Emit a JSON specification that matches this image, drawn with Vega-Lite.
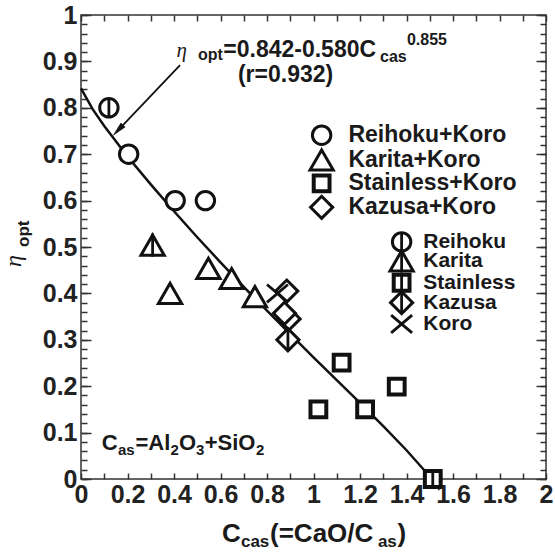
{
  "$schema": "https://vega.github.io/schema/vega-lite/v6.json",
  "width": 465,
  "height": 464,
  "autosize": {"type": "none"},
  "padding": {"left": 81, "top": 15, "right": 9, "bottom": 73},
  "background": "white",
  "config": {
    "view": {"stroke": "#333", "strokeWidth": 1.5},
    "axis": {"grid": false, "domain": false, "labelFont": "Liberation Sans", "labelFontWeight": "bold", "labelFontSize": 25, "labelColor": "#222", "tickColor": "#333", "tickWidth": 1.5, "labelFlush": false, "labelOverlap": false}
  },
  "datasets": {
    "fit": [
      {"c": 0.0, "eta": 0.842}, {"c": 0.05, "eta": 0.797}, {"c": 0.1, "eta": 0.761},
      {"c": 0.2, "eta": 0.695}, {"c": 0.3, "eta": 0.635}, {"c": 0.4, "eta": 0.577},
      {"c": 0.5, "eta": 0.521}, {"c": 0.6, "eta": 0.467}, {"c": 0.7, "eta": 0.414},
      {"c": 0.8, "eta": 0.363}, {"c": 0.9, "eta": 0.312}, {"c": 1.0, "eta": 0.262},
      {"c": 1.1, "eta": 0.213}, {"c": 1.2, "eta": 0.164}, {"c": 1.3, "eta": 0.114},
      {"c": 1.4, "eta": 0.062}, {"c": 1.51, "eta": 0.0}
    ],
    "arrow": [{"c": 0.426, "eta": 0.892}, {"c": 0.16, "eta": 0.752}],
    "head": [{"c": 0.16, "eta": 0.752}],
    "pts": [
      {"c": 0.205, "eta": 0.70, "material": "Reihoku+Koro"},
      {"c": 0.405, "eta": 0.60, "material": "Reihoku+Koro"},
      {"c": 0.535, "eta": 0.60, "material": "Reihoku+Koro"},
      {"c": 0.12, "eta": 0.80, "material": "Reihoku"},
      {"c": 0.383, "eta": 0.40, "material": "Karita+Koro"},
      {"c": 0.548, "eta": 0.454, "material": "Karita+Koro"},
      {"c": 0.648, "eta": 0.432, "material": "Karita+Koro"},
      {"c": 0.748, "eta": 0.393, "material": "Karita+Koro"},
      {"c": 0.308, "eta": 0.504, "material": "Karita"},
      {"c": 1.021, "eta": 0.15, "material": "Stainless+Koro"},
      {"c": 1.121, "eta": 0.251, "material": "Stainless+Koro"},
      {"c": 1.222, "eta": 0.15, "material": "Stainless+Koro"},
      {"c": 1.358, "eta": 0.199, "material": "Stainless+Koro"},
      {"c": 1.513, "eta": 0.0, "material": "Stainless"},
      {"c": 0.895, "eta": 0.345, "material": "Kazusa+Koro"},
      {"c": 0.875, "eta": 0.357, "material": "Kazusa+Koro"},
      {"c": 0.885, "eta": 0.405, "material": "Kazusa+Koro"},
      {"c": 0.89, "eta": 0.30, "material": "Kazusa"},
      {"c": 0.845, "eta": 0.40, "material": "Koro"},
      {"c": 1.035, "eta": 0.741, "material": "Reihoku+Koro"},
      {"c": 1.035, "eta": 0.6875, "material": "Karita+Koro"},
      {"c": 1.035, "eta": 0.637, "material": "Stainless+Koro"},
      {"c": 1.035, "eta": 0.5855, "material": "Kazusa+Koro"},
      {"c": 1.379, "eta": 0.511, "material": "Reihoku"},
      {"c": 1.379, "eta": 0.47, "material": "Karita"},
      {"c": 1.379, "eta": 0.423, "material": "Stainless"},
      {"c": 1.379, "eta": 0.38, "material": "Kazusa"},
      {"c": 1.379, "eta": 0.334, "material": "Koro"}
    ],
    "labels": [
      {"c": 1.15, "eta": 0.741, "text": "Reihoku+Koro", "kind": "leg1"},
      {"c": 1.15, "eta": 0.6875, "text": "Karita+Koro", "kind": "leg1"},
      {"c": 1.15, "eta": 0.637, "text": "Stainless+Koro", "kind": "leg1"},
      {"c": 1.15, "eta": 0.5855, "text": "Kazusa+Koro", "kind": "leg1"},
      {"c": 1.472, "eta": 0.511, "text": "Reihoku", "kind": "leg2"},
      {"c": 1.472, "eta": 0.47, "text": "Karita", "kind": "leg2"},
      {"c": 1.472, "eta": 0.423, "text": "Stainless", "kind": "leg2"},
      {"c": 1.472, "eta": 0.38, "text": "Kazusa", "kind": "leg2"},
      {"c": 1.472, "eta": 0.334, "text": "Koro", "kind": "leg2"},
      {"c": 0.433, "eta": 0.909, "text": "η", "kind": "eta_ann"},
      {"c": 0.503, "eta": 0.903, "text": "opt", "kind": "sub16"},
      {"c": 0.612, "eta": 0.909, "text": "=0.842-0.580C", "kind": "main23"},
      {"c": 1.286, "eta": 0.899, "text": "cas", "kind": "sub16"},
      {"c": 1.402, "eta": 0.935, "text": "0.855", "kind": "sub16"},
      {"c": 0.675, "eta": 0.856, "text": "(r=0.932)", "kind": "main23"},
      {"c": 0.089, "eta": 0.0625, "text": "C", "kind": "cf_main"},
      {"c": 0.159, "eta": 0.0517, "text": "as", "kind": "cf_sub"},
      {"c": 0.234, "eta": 0.0625, "text": "=Al", "kind": "cf_main"},
      {"c": 0.385, "eta": 0.0517, "text": "2", "kind": "cf_sub"},
      {"c": 0.422, "eta": 0.0625, "text": "O", "kind": "cf_main"},
      {"c": 0.495, "eta": 0.0517, "text": "3", "kind": "cf_sub"},
      {"c": 0.532, "eta": 0.0625, "text": "+SiO", "kind": "cf_main"},
      {"c": 0.753, "eta": 0.0517, "text": "2", "kind": "cf_sub"},
      {"c": 0.606, "eta": -0.135, "text": "C", "kind": "xt_main"},
      {"c": 0.688, "eta": -0.146, "text": "cas", "kind": "xt_sub"},
      {"c": 0.813, "eta": -0.135, "text": "(=CaO/C", "kind": "xt_main"},
      {"c": 1.277, "eta": -0.146, "text": "as", "kind": "xt_sub"},
      {"c": 1.361, "eta": -0.135, "text": ")", "kind": "xt_main"},
      {"c": -0.256, "eta": 0.457, "text": "η", "kind": "yt_eta"},
      {"c": -0.222, "eta": 0.5, "text": "opt", "kind": "yt_sub"}
    ]
  },
  "resolve": {"axis": {"x": "independent", "y": "independent"}},
  "layer": [
    {
      "data": {"name": "fit"},
      "mark": {"type": "line", "stroke": "#111", "strokeWidth": 2.5},
      "encoding": {
        "x": {"field": "c", "type": "quantitative", "scale": {"domain": [0, 2], "nice": false, "zero": false},
              "axis": {"orient": "bottom", "title": null, "ticks": false, "labelPadding": 3, "format": "~g",
                       "values": [0, 0.2, 0.4, 0.6, 0.8, 1, 1.2, 1.4, 1.6, 1.8, 2]}},
        "y": {"field": "eta", "type": "quantitative", "scale": {"domain": [0, 1], "nice": false, "zero": false},
              "axis": {"orient": "left", "title": null, "ticks": false, "labelPadding": 4, "format": "~g",
                       "values": [0, 0.1, 0.2, 0.3, 0.4, 0.5, 0.6, 0.7, 0.8, 0.9, 1]}}
      }
    },
    {
      "data": {"name": "arrow"},
      "mark": {"type": "line", "stroke": "#111", "strokeWidth": 1.8},
      "encoding": {
        "x": {"field": "c", "type": "quantitative", "scale": {"domain": [0, 2], "nice": false, "zero": false},
              "axis": {"orient": "bottom", "title": null, "labels": false, "tickSize": -6,
                       "values": [0, 0.1, 0.2, 0.3, 0.4, 0.5, 0.6, 0.7, 0.8, 0.9, 1, 1.1, 1.2, 1.3, 1.4, 1.5, 1.6, 1.7, 1.8, 1.9, 2]}},
        "y": {"field": "eta", "type": "quantitative", "scale": {"domain": [0, 1], "nice": false, "zero": false},
              "axis": {"orient": "left", "title": null, "labels": false, "tickSize": -10,
                       "values": [0, 0.1, 0.2, 0.3, 0.4, 0.5, 0.6, 0.7, 0.8, 0.9, 1]}}
      }
    },
    {
      "data": {"name": "head"},
      "mark": {"type": "point", "shape": "M0,-1L-0.42,1L0.42,1Z", "filled": true, "fill": "#111", "stroke": "#111", "strokeWidth": 0.5, "size": 196, "angle": 223.6, "opacity": 1},
      "encoding": {
        "x": {"field": "c", "type": "quantitative", "scale": {"domain": [0, 2], "nice": false, "zero": false},
              "axis": {"orient": "top", "title": null, "labels": false, "tickSize": -6,
                       "values": [0, 0.1, 0.2, 0.3, 0.4, 0.5, 0.6, 0.7, 0.8, 0.9, 1, 1.1, 1.2, 1.3, 1.4, 1.5, 1.6, 1.7, 1.8, 1.9, 2]}},
        "y": {"field": "eta", "type": "quantitative", "scale": {"domain": [0, 1], "nice": false, "zero": false},
              "axis": {"orient": "left", "title": null, "labels": false, "tickSize": -6,
                       "values": [0, 0.02, 0.04, 0.06, 0.08, 0.1, 0.12, 0.14, 0.16, 0.18, 0.2, 0.22, 0.24, 0.26, 0.28, 0.3, 0.32, 0.34, 0.36, 0.38, 0.4, 0.42, 0.44, 0.46, 0.48, 0.5, 0.52, 0.54, 0.56, 0.58, 0.6, 0.62, 0.64, 0.66, 0.68, 0.7, 0.72, 0.74, 0.76, 0.78, 0.8, 0.82, 0.84, 0.86, 0.88, 0.9, 0.92, 0.94, 0.96, 0.98, 1]}}
      }
    },
    {
      "data": {"name": "pts"},
      "mark": {"type": "point", "filled": false, "fill": "white", "fillOpacity": 1, "stroke": "#111", "opacity": 1},
      "encoding": {
        "x": {"field": "c", "type": "quantitative", "scale": {"domain": [0, 2], "nice": false, "zero": false}, "axis": null},
        "y": {"field": "eta", "type": "quantitative", "scale": {"domain": [0, 1], "nice": false, "zero": false},
              "axis": {"orient": "right", "title": null, "labels": false, "tickSize": -10,
                       "values": [0, 0.1, 0.2, 0.3, 0.4, 0.5, 0.6, 0.7, 0.8, 0.9, 1]}},
        "shape": {"field": "material", "type": "nominal", "legend": null,
                  "scale": {"domain": ["Reihoku+Koro", "Karita+Koro", "Stainless+Koro", "Kazusa+Koro", "Reihoku", "Karita", "Stainless", "Kazusa", "Koro"],
                            "range": ["circle", "triangle-up", "square", "diamond", "circle", "triangle-up", "square", "diamond", "M-1,-0.85L1,0.85M-1,0.85L1,-0.85"]}},
        "size": {"field": "material", "type": "nominal", "legend": null,
                 "scale": {"type": "ordinal", "domain": ["Reihoku+Koro", "Karita+Koro", "Stainless+Koro", "Kazusa+Koro", "Reihoku", "Karita", "Stainless", "Kazusa", "Koro"],
                           "range": [340, 540, 250, 490, 340, 540, 250, 490, 440]}},
        "strokeWidth": {"field": "material", "type": "nominal", "legend": null,
                        "scale": {"type": "ordinal", "domain": ["Reihoku+Koro", "Karita+Koro", "Stainless+Koro", "Kazusa+Koro", "Reihoku", "Karita", "Stainless", "Kazusa", "Koro"],
                                  "range": [3, 3, 4, 3, 3, 3, 4, 3, 2.8]}}
      }
    },
    {
      "data": {"name": "pts"},
      "transform": [{"filter": {"field": "material", "oneOf": ["Reihoku", "Karita", "Stainless", "Kazusa"]}}],
      "mark": {"type": "point", "shape": "M0,-1L0,1", "filled": false, "stroke": "#111", "strokeWidth": 2.8, "opacity": 1},
      "encoding": {
        "x": {"field": "c", "type": "quantitative", "scale": {"domain": [0, 2], "nice": false, "zero": false}, "axis": null},
        "y": {"field": "eta", "type": "quantitative", "scale": {"domain": [0, 1], "nice": false, "zero": false},
              "axis": {"orient": "right", "title": null, "labels": false, "tickSize": -6,
                       "values": [0, 0.02, 0.04, 0.06, 0.08, 0.1, 0.12, 0.14, 0.16, 0.18, 0.2, 0.22, 0.24, 0.26, 0.28, 0.3, 0.32, 0.34, 0.36, 0.38, 0.4, 0.42, 0.44, 0.46, 0.48, 0.5, 0.52, 0.54, 0.56, 0.58, 0.6, 0.62, 0.64, 0.66, 0.68, 0.7, 0.72, 0.74, 0.76, 0.78, 0.8, 0.82, 0.84, 0.86, 0.88, 0.9, 0.92, 0.94, 0.96, 0.98, 1]}},
        "size": {"field": "material", "type": "nominal", "legend": null,
                 "scale": {"type": "ordinal", "domain": ["Reihoku", "Karita", "Stainless", "Kazusa"], "range": [340, 410, 210, 490]}}
      }
    },
    {
      "data": {"name": "labels"},
      "transform": [{"filter": {"field": "kind", "equal": "leg1"}}],
      "mark": {"type": "text", "font": "Liberation Sans", "fontWeight": "bold", "fontSize": 23, "align": "left", "baseline": "middle", "color": "#1a1a1a"},
      "encoding": {
        "x": {"field": "c", "type": "quantitative", "scale": {"domain": [0, 2], "nice": false, "zero": false}, "axis": null},
        "y": {"field": "eta", "type": "quantitative", "scale": {"domain": [0, 1], "nice": false, "zero": false}, "axis": null},
        "text": {"field": "text"}
      }
    },
    {
      "data": {"name": "labels"},
      "transform": [{"filter": {"field": "kind", "equal": "leg2"}}],
      "mark": {"type": "text", "font": "Liberation Sans", "fontWeight": "bold", "fontSize": 21, "align": "left", "baseline": "middle", "color": "#1a1a1a"},
      "encoding": {
        "x": {"field": "c", "type": "quantitative", "scale": {"domain": [0, 2], "nice": false, "zero": false}, "axis": null},
        "y": {"field": "eta", "type": "quantitative", "scale": {"domain": [0, 1], "nice": false, "zero": false}, "axis": null},
        "text": {"field": "text"}
      }
    },
    {
      "data": {"name": "labels"},
      "transform": [{"filter": {"field": "kind", "equal": "main23"}}],
      "mark": {"type": "text", "font": "Liberation Sans", "fontWeight": "bold", "fontSize": 23, "align": "left", "baseline": "alphabetic", "color": "#1a1a1a"},
      "encoding": {
        "x": {"field": "c", "type": "quantitative", "scale": {"domain": [0, 2], "nice": false, "zero": false}, "axis": null},
        "y": {"field": "eta", "type": "quantitative", "scale": {"domain": [0, 1], "nice": false, "zero": false}, "axis": null},
        "text": {"field": "text"}
      }
    },
    {
      "data": {"name": "labels"},
      "transform": [{"filter": {"field": "kind", "equal": "sub16"}}],
      "mark": {"type": "text", "font": "Liberation Sans", "fontWeight": "bold", "fontSize": 16, "align": "left", "baseline": "alphabetic", "color": "#1a1a1a"},
      "encoding": {
        "x": {"field": "c", "type": "quantitative", "scale": {"domain": [0, 2], "nice": false, "zero": false}, "axis": null},
        "y": {"field": "eta", "type": "quantitative", "scale": {"domain": [0, 1], "nice": false, "zero": false}, "axis": null},
        "text": {"field": "text"}
      }
    },
    {
      "data": {"name": "labels"},
      "transform": [{"filter": {"field": "kind", "equal": "eta_ann"}}],
      "mark": {"type": "text", "font": "Liberation Serif", "fontStyle": "italic", "fontSize": 21, "align": "center", "baseline": "alphabetic", "color": "#1a1a1a"},
      "encoding": {
        "x": {"field": "c", "type": "quantitative", "scale": {"domain": [0, 2], "nice": false, "zero": false}, "axis": null},
        "y": {"field": "eta", "type": "quantitative", "scale": {"domain": [0, 1], "nice": false, "zero": false}, "axis": null},
        "text": {"field": "text"}
      }
    },
    {
      "data": {"name": "labels"},
      "transform": [{"filter": {"field": "kind", "equal": "cf_main"}}],
      "mark": {"type": "text", "font": "Liberation Sans", "fontWeight": "bold", "fontSize": 22, "align": "left", "baseline": "alphabetic", "color": "#1a1a1a"},
      "encoding": {
        "x": {"field": "c", "type": "quantitative", "scale": {"domain": [0, 2], "nice": false, "zero": false}, "axis": null},
        "y": {"field": "eta", "type": "quantitative", "scale": {"domain": [0, 1], "nice": false, "zero": false}, "axis": null},
        "text": {"field": "text"}
      }
    },
    {
      "data": {"name": "labels"},
      "transform": [{"filter": {"field": "kind", "equal": "cf_sub"}}],
      "mark": {"type": "text", "font": "Liberation Sans", "fontWeight": "bold", "fontSize": 15, "align": "left", "baseline": "alphabetic", "color": "#1a1a1a"},
      "encoding": {
        "x": {"field": "c", "type": "quantitative", "scale": {"domain": [0, 2], "nice": false, "zero": false}, "axis": null},
        "y": {"field": "eta", "type": "quantitative", "scale": {"domain": [0, 1], "nice": false, "zero": false}, "axis": null},
        "text": {"field": "text"}
      }
    },
    {
      "data": {"name": "labels"},
      "transform": [{"filter": {"field": "kind", "equal": "xt_main"}}],
      "mark": {"type": "text", "font": "Liberation Sans", "fontWeight": "bold", "fontSize": 26, "align": "left", "baseline": "alphabetic", "color": "#1a1a1a"},
      "encoding": {
        "x": {"field": "c", "type": "quantitative", "scale": {"domain": [0, 2], "nice": false, "zero": false}, "axis": null},
        "y": {"field": "eta", "type": "quantitative", "scale": {"domain": [0, 1], "nice": false, "zero": false}, "axis": null},
        "text": {"field": "text"}
      }
    },
    {
      "data": {"name": "labels"},
      "transform": [{"filter": {"field": "kind", "equal": "xt_sub"}}],
      "mark": {"type": "text", "font": "Liberation Sans", "fontWeight": "bold", "fontSize": 17, "align": "left", "baseline": "alphabetic", "color": "#1a1a1a"},
      "encoding": {
        "x": {"field": "c", "type": "quantitative", "scale": {"domain": [0, 2], "nice": false, "zero": false}, "axis": null},
        "y": {"field": "eta", "type": "quantitative", "scale": {"domain": [0, 1], "nice": false, "zero": false}, "axis": null},
        "text": {"field": "text"}
      }
    },
    {
      "data": {"name": "labels"},
      "transform": [{"filter": {"field": "kind", "equal": "yt_eta"}}],
      "mark": {"type": "text", "font": "Liberation Serif", "fontStyle": "italic", "fontSize": 24, "align": "left", "baseline": "alphabetic", "angle": 270, "color": "#1a1a1a"},
      "encoding": {
        "x": {"field": "c", "type": "quantitative", "scale": {"domain": [0, 2], "nice": false, "zero": false}, "axis": null},
        "y": {"field": "eta", "type": "quantitative", "scale": {"domain": [0, 1], "nice": false, "zero": false}, "axis": null},
        "text": {"field": "text"}
      }
    },
    {
      "data": {"name": "labels"},
      "transform": [{"filter": {"field": "kind", "equal": "yt_sub"}}],
      "mark": {"type": "text", "font": "Liberation Sans", "fontWeight": "bold", "fontSize": 17, "align": "left", "baseline": "alphabetic", "angle": 270, "color": "#1a1a1a"},
      "encoding": {
        "x": {"field": "c", "type": "quantitative", "scale": {"domain": [0, 2], "nice": false, "zero": false}, "axis": null},
        "y": {"field": "eta", "type": "quantitative", "scale": {"domain": [0, 1], "nice": false, "zero": false}, "axis": null},
        "text": {"field": "text"}
      }
    }
  ]
}
